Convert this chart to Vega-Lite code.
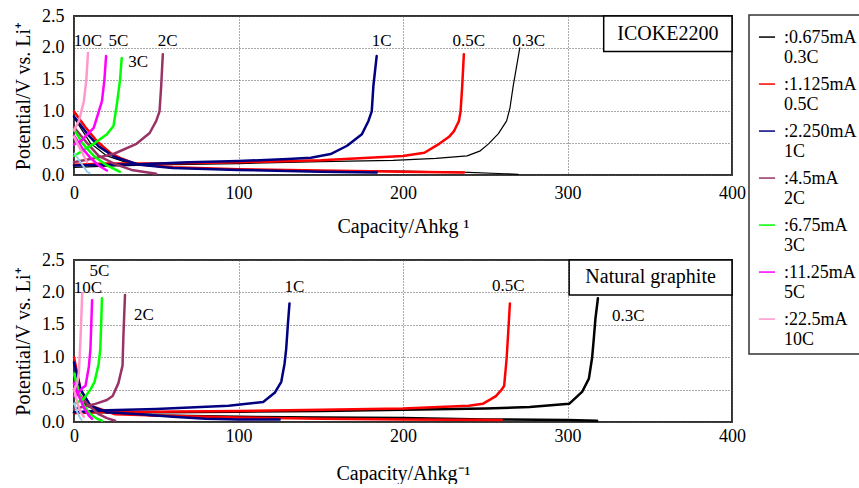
{
  "$schema": "https://vega.github.io/schema/vega-lite/v6.json",
  "background": "white",
  "padding": {"left": 12, "top": 6, "right": 0, "bottom": 0},
  "datasets": {
    "curves": [
      {"p":"A","s":"0.3C","k":"c","x":0,"y":0.12},{"p":"A","s":"0.3C","k":"c","x":20,"y":0.14},{"p":"A","s":"0.3C","k":"c","x":50,"y":0.16},{"p":"A","s":"0.3C","k":"c","x":100,"y":0.18},{"p":"A","s":"0.3C","k":"c","x":150,"y":0.21},{"p":"A","s":"0.3C","k":"c","x":194,"y":0.23},{"p":"A","s":"0.3C","k":"c","x":220,"y":0.26},{"p":"A","s":"0.3C","k":"c","x":239,"y":0.3},{"p":"A","s":"0.3C","k":"c","x":247,"y":0.38},{"p":"A","s":"0.3C","k":"c","x":252,"y":0.49},{"p":"A","s":"0.3C","k":"c","x":258,"y":0.65},{"p":"A","s":"0.3C","k":"c","x":263,"y":0.85},{"p":"A","s":"0.3C","k":"c","x":265,"y":1.05},{"p":"A","s":"0.3C","k":"c","x":267,"y":1.4},{"p":"A","s":"0.3C","k":"c","x":269,"y":1.7},{"p":"A","s":"0.3C","k":"c","x":271,"y":2.0},
      {"p":"A","s":"0.3C","k":"d","x":0,"y":0.9},{"p":"A","s":"0.3C","k":"d","x":10,"y":0.5},{"p":"A","s":"0.3C","k":"d","x":20,"y":0.3},{"p":"A","s":"0.3C","k":"d","x":35,"y":0.17},{"p":"A","s":"0.3C","k":"d","x":60,"y":0.11},{"p":"A","s":"0.3C","k":"d","x":100,"y":0.08},{"p":"A","s":"0.3C","k":"d","x":150,"y":0.07},{"p":"A","s":"0.3C","k":"d","x":200,"y":0.06},{"p":"A","s":"0.3C","k":"d","x":240,"y":0.04},{"p":"A","s":"0.3C","k":"d","x":262,"y":0.02},{"p":"A","s":"0.3C","k":"d","x":270,"y":0.01},
      {"p":"A","s":"0.5C","k":"c","x":0,"y":0.16},{"p":"A","s":"0.5C","k":"c","x":20,"y":0.18},{"p":"A","s":"0.5C","k":"c","x":50,"y":0.18},{"p":"A","s":"0.5C","k":"c","x":100,"y":0.2},{"p":"A","s":"0.5C","k":"c","x":150,"y":0.23},{"p":"A","s":"0.5C","k":"c","x":200,"y":0.3},{"p":"A","s":"0.5C","k":"c","x":213,"y":0.35},{"p":"A","s":"0.5C","k":"c","x":222,"y":0.49},{"p":"A","s":"0.5C","k":"c","x":228,"y":0.6},{"p":"A","s":"0.5C","k":"c","x":231,"y":0.69},{"p":"A","s":"0.5C","k":"c","x":234,"y":0.85},{"p":"A","s":"0.5C","k":"c","x":235,"y":1.0},{"p":"A","s":"0.5C","k":"c","x":236,"y":1.4},{"p":"A","s":"0.5C","k":"c","x":237,"y":1.9},
      {"p":"A","s":"0.5C","k":"d","x":0,"y":1.0},{"p":"A","s":"0.5C","k":"d","x":7,"y":0.75},{"p":"A","s":"0.5C","k":"d","x":14,"y":0.53},{"p":"A","s":"0.5C","k":"d","x":22,"y":0.35},{"p":"A","s":"0.5C","k":"d","x":28,"y":0.27},{"p":"A","s":"0.5C","k":"d","x":38,"y":0.17},{"p":"A","s":"0.5C","k":"d","x":60,"y":0.12},{"p":"A","s":"0.5C","k":"d","x":100,"y":0.09},{"p":"A","s":"0.5C","k":"d","x":150,"y":0.07},{"p":"A","s":"0.5C","k":"d","x":200,"y":0.05},{"p":"A","s":"0.5C","k":"d","x":237,"y":0.04},
      {"p":"A","s":"1C","k":"c","x":0,"y":0.15},{"p":"A","s":"1C","k":"c","x":20,"y":0.16},{"p":"A","s":"1C","k":"c","x":40,"y":0.17},{"p":"A","s":"1C","k":"c","x":70,"y":0.2},{"p":"A","s":"1C","k":"c","x":100,"y":0.22},{"p":"A","s":"1C","k":"c","x":130,"y":0.25},{"p":"A","s":"1C","k":"c","x":144,"y":0.27},{"p":"A","s":"1C","k":"c","x":156,"y":0.33},{"p":"A","s":"1C","k":"c","x":166,"y":0.46},{"p":"A","s":"1C","k":"c","x":175,"y":0.64},{"p":"A","s":"1C","k":"c","x":179,"y":0.85},{"p":"A","s":"1C","k":"c","x":181,"y":1.0},{"p":"A","s":"1C","k":"c","x":182,"y":1.4},{"p":"A","s":"1C","k":"c","x":184,"y":1.87},
      {"p":"A","s":"1C","k":"d","x":0,"y":0.92},{"p":"A","s":"1C","k":"d","x":8,"y":0.65},{"p":"A","s":"1C","k":"d","x":15,"y":0.45},{"p":"A","s":"1C","k":"d","x":25,"y":0.28},{"p":"A","s":"1C","k":"d","x":40,"y":0.16},{"p":"A","s":"1C","k":"d","x":60,"y":0.11},{"p":"A","s":"1C","k":"d","x":100,"y":0.08},{"p":"A","s":"1C","k":"d","x":150,"y":0.05},{"p":"A","s":"1C","k":"d","x":184,"y":0.04},
      {"p":"A","s":"2C","k":"c","x":0,"y":0.2},{"p":"A","s":"2C","k":"c","x":10,"y":0.25},{"p":"A","s":"2C","k":"c","x":24,"y":0.33},{"p":"A","s":"2C","k":"c","x":38,"y":0.49},{"p":"A","s":"2C","k":"c","x":46,"y":0.66},{"p":"A","s":"2C","k":"c","x":50,"y":0.85},{"p":"A","s":"2C","k":"c","x":52,"y":1.0},{"p":"A","s":"2C","k":"c","x":53,"y":1.4},{"p":"A","s":"2C","k":"c","x":54,"y":1.9},
      {"p":"A","s":"2C","k":"d","x":0,"y":0.75},{"p":"A","s":"2C","k":"d","x":8,"y":0.5},{"p":"A","s":"2C","k":"d","x":15,"y":0.3},{"p":"A","s":"2C","k":"d","x":25,"y":0.17},{"p":"A","s":"2C","k":"d","x":35,"y":0.08},{"p":"A","s":"2C","k":"d","x":45,"y":0.04},{"p":"A","s":"2C","k":"d","x":50,"y":0.02},
      {"p":"A","s":"3C","k":"c","x":0,"y":0.3},{"p":"A","s":"3C","k":"c","x":2,"y":0.33},{"p":"A","s":"3C","k":"c","x":12,"y":0.49},{"p":"A","s":"3C","k":"c","x":20,"y":0.64},{"p":"A","s":"3C","k":"c","x":24,"y":0.77},{"p":"A","s":"3C","k":"c","x":26,"y":1.1},{"p":"A","s":"3C","k":"c","x":28,"y":1.5},{"p":"A","s":"3C","k":"c","x":29,"y":1.84},
      {"p":"A","s":"3C","k":"d","x":0,"y":0.72},{"p":"A","s":"3C","k":"d","x":5,"y":0.5},{"p":"A","s":"3C","k":"d","x":12,"y":0.3},{"p":"A","s":"3C","k":"d","x":20,"y":0.15},{"p":"A","s":"3C","k":"d","x":28,"y":0.05},
      {"p":"A","s":"5C","k":"c","x":0,"y":0.48},{"p":"A","s":"5C","k":"c","x":4,"y":0.53},{"p":"A","s":"5C","k":"c","x":12,"y":0.74},{"p":"A","s":"5C","k":"c","x":17,"y":1.16},{"p":"A","s":"5C","k":"c","x":18.5,"y":1.5},{"p":"A","s":"5C","k":"c","x":19.5,"y":1.87},
      {"p":"A","s":"5C","k":"d","x":0,"y":0.62},{"p":"A","s":"5C","k":"d","x":5,"y":0.42},{"p":"A","s":"5C","k":"d","x":10,"y":0.27},{"p":"A","s":"5C","k":"d","x":15,"y":0.15},{"p":"A","s":"5C","k":"d","x":20,"y":0.07},
      {"p":"A","s":"10C","k":"c","x":0,"y":0.7},{"p":"A","s":"10C","k":"c","x":3,"y":0.85},{"p":"A","s":"10C","k":"c","x":6,"y":1.16},{"p":"A","s":"10C","k":"c","x":7.5,"y":1.5},{"p":"A","s":"10C","k":"c","x":8.5,"y":1.92},
      {"p":"A","s":"10C","k":"d","x":0,"y":0.6},{"p":"A","s":"10C","k":"d","x":4,"y":0.4},{"p":"A","s":"10C","k":"d","x":8,"y":0.2},
      {"p":"A","s":"extra","k":"d","x":0,"y":0.35},{"p":"A","s":"extra","k":"d","x":4,"y":0.2},{"p":"A","s":"extra","k":"d","x":8,"y":0.05},{"p":"A","s":"extra","k":"d","x":10,"y":0.02},
      {"p":"B","s":"0.3C","k":"c","x":0,"y":0.14},{"p":"B","s":"0.3C","k":"c","x":10,"y":0.15},{"p":"B","s":"0.3C","k":"c","x":50,"y":0.15},{"p":"B","s":"0.3C","k":"c","x":100,"y":0.16},{"p":"B","s":"0.3C","k":"c","x":150,"y":0.17},{"p":"B","s":"0.3C","k":"c","x":200,"y":0.19},{"p":"B","s":"0.3C","k":"c","x":250,"y":0.21},{"p":"B","s":"0.3C","k":"c","x":277,"y":0.23},{"p":"B","s":"0.3C","k":"c","x":301,"y":0.28},{"p":"B","s":"0.3C","k":"c","x":309,"y":0.47},{"p":"B","s":"0.3C","k":"c","x":313,"y":0.67},{"p":"B","s":"0.3C","k":"c","x":315,"y":1.0},{"p":"B","s":"0.3C","k":"c","x":316,"y":1.29},{"p":"B","s":"0.3C","k":"c","x":317,"y":1.6},{"p":"B","s":"0.3C","k":"c","x":318.5,"y":1.91},
      {"p":"B","s":"0.3C","k":"d","x":0,"y":0.5},{"p":"B","s":"0.3C","k":"d","x":8,"y":0.25},{"p":"B","s":"0.3C","k":"d","x":20,"y":0.15},{"p":"B","s":"0.3C","k":"d","x":50,"y":0.1},{"p":"B","s":"0.3C","k":"d","x":100,"y":0.08},{"p":"B","s":"0.3C","k":"d","x":150,"y":0.07},{"p":"B","s":"0.3C","k":"d","x":200,"y":0.06},{"p":"B","s":"0.3C","k":"d","x":250,"y":0.04},{"p":"B","s":"0.3C","k":"d","x":300,"y":0.03},{"p":"B","s":"0.3C","k":"d","x":318,"y":0.02},
      {"p":"B","s":"0.5C","k":"c","x":0,"y":0.14},{"p":"B","s":"0.5C","k":"c","x":10,"y":0.15},{"p":"B","s":"0.5C","k":"c","x":50,"y":0.16},{"p":"B","s":"0.5C","k":"c","x":100,"y":0.17},{"p":"B","s":"0.5C","k":"c","x":150,"y":0.19},{"p":"B","s":"0.5C","k":"c","x":200,"y":0.21},{"p":"B","s":"0.5C","k":"c","x":240,"y":0.25},{"p":"B","s":"0.5C","k":"c","x":248.5,"y":0.28},{"p":"B","s":"0.5C","k":"c","x":256.5,"y":0.4},{"p":"B","s":"0.5C","k":"c","x":260,"y":0.5},{"p":"B","s":"0.5C","k":"c","x":261.5,"y":0.56},{"p":"B","s":"0.5C","k":"c","x":263,"y":0.98},{"p":"B","s":"0.5C","k":"c","x":264,"y":1.4},{"p":"B","s":"0.5C","k":"c","x":265,"y":1.83},
      {"p":"B","s":"0.5C","k":"d","x":0,"y":1.0},{"p":"B","s":"0.5C","k":"d","x":4,"y":0.5},{"p":"B","s":"0.5C","k":"d","x":10,"y":0.25},{"p":"B","s":"0.5C","k":"d","x":25,"y":0.12},{"p":"B","s":"0.5C","k":"d","x":50,"y":0.1},{"p":"B","s":"0.5C","k":"d","x":100,"y":0.07},{"p":"B","s":"0.5C","k":"d","x":150,"y":0.05},{"p":"B","s":"0.5C","k":"d","x":200,"y":0.04},{"p":"B","s":"0.5C","k":"d","x":260,"y":0.03},
      {"p":"B","s":"1C","k":"c","x":0,"y":0.15},{"p":"B","s":"1C","k":"c","x":5,"y":0.16},{"p":"B","s":"1C","k":"c","x":20,"y":0.18},{"p":"B","s":"1C","k":"c","x":50,"y":0.2},{"p":"B","s":"1C","k":"c","x":94,"y":0.25},{"p":"B","s":"1C","k":"c","x":115,"y":0.31},{"p":"B","s":"1C","k":"c","x":122,"y":0.45},{"p":"B","s":"1C","k":"c","x":126,"y":0.62},{"p":"B","s":"1C","k":"c","x":128,"y":0.9},{"p":"B","s":"1C","k":"c","x":129,"y":1.13},{"p":"B","s":"1C","k":"c","x":130,"y":1.5},{"p":"B","s":"1C","k":"c","x":131,"y":1.83},
      {"p":"B","s":"1C","k":"d","x":0,"y":0.92},{"p":"B","s":"1C","k":"d","x":4,"y":0.5},{"p":"B","s":"1C","k":"d","x":10,"y":0.25},{"p":"B","s":"1C","k":"d","x":20,"y":0.15},{"p":"B","s":"1C","k":"d","x":40,"y":0.12},{"p":"B","s":"1C","k":"d","x":60,"y":0.08},{"p":"B","s":"1C","k":"d","x":80,"y":0.05},{"p":"B","s":"1C","k":"d","x":100,"y":0.04},{"p":"B","s":"1C","k":"d","x":125,"y":0.04},
      {"p":"B","s":"2C","k":"c","x":0,"y":0.2},{"p":"B","s":"2C","k":"c","x":3,"y":0.22},{"p":"B","s":"2C","k":"c","x":13,"y":0.28},{"p":"B","s":"2C","k":"c","x":20,"y":0.34},{"p":"B","s":"2C","k":"c","x":23.5,"y":0.4},{"p":"B","s":"2C","k":"c","x":27,"y":0.6},{"p":"B","s":"2C","k":"c","x":29.5,"y":0.87},{"p":"B","s":"2C","k":"c","x":30,"y":1.3},{"p":"B","s":"2C","k":"c","x":31,"y":1.96},
      {"p":"B","s":"2C","k":"d","x":0,"y":0.6},{"p":"B","s":"2C","k":"d","x":4,"y":0.4},{"p":"B","s":"2C","k":"d","x":8,"y":0.28},{"p":"B","s":"2C","k":"d","x":15,"y":0.12},{"p":"B","s":"2C","k":"d","x":20,"y":0.06},{"p":"B","s":"2C","k":"d","x":25,"y":0.02},
      {"p":"B","s":"3C","k":"c","x":0,"y":0.28},{"p":"B","s":"3C","k":"c","x":2,"y":0.3},{"p":"B","s":"3C","k":"c","x":6,"y":0.36},{"p":"B","s":"3C","k":"c","x":10,"y":0.5},{"p":"B","s":"3C","k":"c","x":12.5,"y":0.62},{"p":"B","s":"3C","k":"c","x":15,"y":0.9},{"p":"B","s":"3C","k":"c","x":16,"y":1.13},{"p":"B","s":"3C","k":"c","x":16.5,"y":1.5},{"p":"B","s":"3C","k":"c","x":17,"y":1.91},
      {"p":"B","s":"3C","k":"d","x":0,"y":0.75},{"p":"B","s":"3C","k":"d","x":3,"y":0.45},{"p":"B","s":"3C","k":"d","x":6,"y":0.25},{"p":"B","s":"3C","k":"d","x":10,"y":0.12},{"p":"B","s":"3C","k":"d","x":14,"y":0.05},{"p":"B","s":"3C","k":"d","x":17,"y":0.02},
      {"p":"B","s":"5C","k":"c","x":0,"y":0.4},{"p":"B","s":"5C","k":"c","x":2,"y":0.45},{"p":"B","s":"5C","k":"c","x":5,"y":0.52},{"p":"B","s":"5C","k":"c","x":7,"y":0.56},{"p":"B","s":"5C","k":"c","x":9,"y":0.85},{"p":"B","s":"5C","k":"c","x":10,"y":1.13},{"p":"B","s":"5C","k":"c","x":10.5,"y":1.5},{"p":"B","s":"5C","k":"c","x":11,"y":1.88},
      {"p":"B","s":"5C","k":"d","x":0,"y":0.6},{"p":"B","s":"5C","k":"d","x":3,"y":0.4},{"p":"B","s":"5C","k":"d","x":6,"y":0.22},{"p":"B","s":"5C","k":"d","x":9,"y":0.1},{"p":"B","s":"5C","k":"d","x":11,"y":0.05},
      {"p":"B","s":"10C","k":"c","x":0,"y":0.5},{"p":"B","s":"10C","k":"c","x":2,"y":0.6},{"p":"B","s":"10C","k":"c","x":3,"y":0.78},{"p":"B","s":"10C","k":"c","x":4,"y":1.3},{"p":"B","s":"10C","k":"c","x":5,"y":1.99},
      {"p":"B","s":"10C","k":"d","x":0,"y":0.5},{"p":"B","s":"10C","k":"d","x":2,"y":0.3},{"p":"B","s":"10C","k":"d","x":4,"y":0.15},{"p":"B","s":"10C","k":"d","x":6,"y":0.08},
      {"p":"B","s":"extra","k":"d","x":0,"y":0.3},{"p":"B","s":"extra","k":"d","x":2,"y":0.15},{"p":"B","s":"extra","k":"d","x":4,"y":0.05},{"p":"B","s":"extra","k":"d","x":5,"y":0.02}
    ],
    "notes": [
      {"p":"A","t":"10C","x":8.5,"y":2.1},{"p":"A","t":"5C","x":27,"y":2.1},{"p":"A","t":"2C","x":57,"y":2.1},{"p":"A","t":"3C","x":39,"y":1.78},{"p":"A","t":"1C","x":187,"y":2.1},{"p":"A","t":"0.5C","x":240,"y":2.1},{"p":"A","t":"0.3C","x":276.5,"y":2.1},
      {"p":"B","t":"5C","x":15.5,"y":2.33},{"p":"B","t":"10C","x":8.5,"y":2.07},{"p":"B","t":"2C","x":42.5,"y":1.65},{"p":"B","t":"1C","x":134,"y":2.08},{"p":"B","t":"0.5C","x":264,"y":2.1},{"p":"B","t":"0.3C","x":337,"y":1.63}
    ],
    "boxes": [
      {"p":"A","t":"ICOKE2200","x1":322,"x2":400,"y1":1.94,"y2":2.5,"xc":361,"yc":2.22},
      {"p":"B","t":"Natural graphite","x1":301,"x2":400,"y1":1.96,"y2":2.5,"xc":350.5,"yc":2.23}
    ]
  },
  "vconcat": [
    {
      "width": 658, "height": 159,
      "layer": [
        {
          "data": {"name": "curves"},
          "transform": [{"filter": "datum.p == 'A' && datum.s != 'extra'"}],
          "mark": {"type": "line", "strokeCap": "round", "strokeJoin": "round"},
          "encoding": {
            "x": {"field": "x", "type": "quantitative", "scale": {"domain": [0, 400], "nice": false}, "axis": {"values": [0, 100, 200, 300, 400], "title": "Capacity/Ahkg ¹", "labelOverlap": false, "labelFlush": false, "labelPadding": 9, "titlePadding": 14}},
            "y": {"field": "y", "type": "quantitative", "scale": {"domain": [0, 2.5], "nice": false}, "axis": {"tickCount": 6, "format": ".1f", "title": "Potential/V vs. Li⁺", "labelOverlap": false, "labelFlush": false}},
            "color": {"field": "s", "type": "nominal", "scale": {"domain": ["0.3C", "0.5C", "1C", "2C", "3C", "5C", "10C"], "range": ["#000000", "#ff0000", "#000080", "#993366", "#00ff00", "#ff00ff", "#ff99cc"]},
              "legend": {"orient": "none", "legendX": 675, "legendY": -1, "labelExpr": "datum.label == '0.3C' ? [':0.675mA', '0.3C'] : datum.label == '0.5C' ? [':1.125mA', '0.5C'] : datum.label == '1C' ? [':2.250mA', '1C'] : datum.label == '2C' ? [':4.5mA', '2C'] : datum.label == '3C' ? [':6.75mA', '3C'] : datum.label == '5C' ? [':11.25mA', '5C'] : [':22.5mA', '10C']"}},
            "detail": {"field": "k"},
            "strokeWidth": {"condition": {"test": "datum.s == '0.3C'", "value": 1.2}, "value": 2.5}
          }
        },
        {
          "data": {"name": "curves"},
          "transform": [{"filter": "datum.p == 'A' && datum.s == 'extra'"}],
          "mark": {"type": "line", "color": "#99ccee", "strokeWidth": 2},
          "encoding": {"x": {"field": "x", "type": "quantitative"}, "y": {"field": "y", "type": "quantitative"}}
        },
        {
          "data": {"name": "boxes"},
          "transform": [{"filter": "datum.p == 'A'"}],
          "mark": {"type": "rect", "fill": "white", "stroke": "black", "strokeWidth": 1.5},
          "encoding": {"x": {"field": "x1", "type": "quantitative"}, "x2": {"field": "x2"}, "y": {"field": "y1", "type": "quantitative"}, "y2": {"field": "y2"}}
        },
        {
          "data": {"name": "boxes"},
          "transform": [{"filter": "datum.p == 'A'"}],
          "mark": {"type": "text", "font": "Liberation Serif", "fontSize": 20, "color": "black"},
          "encoding": {"x": {"field": "xc", "type": "quantitative"}, "y": {"field": "yc", "type": "quantitative"}, "text": {"field": "t"}}
        },
        {
          "data": {"name": "notes"},
          "transform": [{"filter": "datum.p == 'A'"}],
          "mark": {"type": "text", "font": "Liberation Serif", "fontSize": 17, "color": "black"},
          "encoding": {"x": {"field": "x", "type": "quantitative"}, "y": {"field": "y", "type": "quantitative"}, "text": {"field": "t"}}
        }
      ]
    },
    {
      "width": 658, "height": 162,
      "layer": [
        {
          "data": {"name": "curves"},
          "transform": [{"filter": "datum.p == 'B' && datum.s != 'extra'"}],
          "mark": {"type": "line", "strokeCap": "round", "strokeJoin": "round"},
          "encoding": {
            "x": {"field": "x", "type": "quantitative", "scale": {"domain": [0, 400], "nice": false}, "axis": {"values": [0, 100, 200, 300, 400], "title": "Capacity/Ahkg⁻¹", "labelOverlap": false, "labelFlush": false, "labelPadding": 5, "titlePadding": 18}},
            "y": {"field": "y", "type": "quantitative", "scale": {"domain": [0, 2.5], "nice": false}, "axis": {"tickCount": 6, "format": ".1f", "title": "Potential/V vs. Li⁺", "labelOverlap": false, "labelFlush": false}},
            "color": {"field": "s", "type": "nominal", "scale": {"domain": ["0.3C", "0.5C", "1C", "2C", "3C", "5C", "10C"], "range": ["#000000", "#ff0000", "#000080", "#993366", "#00ff00", "#ff00ff", "#ff99cc"]}},
            "detail": {"field": "k"},
            "strokeWidth": {"value": 2.5}
          }
        },
        {
          "data": {"name": "curves"},
          "transform": [{"filter": "datum.p == 'B' && datum.s == 'extra'"}],
          "mark": {"type": "line", "color": "#99ccee", "strokeWidth": 2},
          "encoding": {"x": {"field": "x", "type": "quantitative"}, "y": {"field": "y", "type": "quantitative"}}
        },
        {
          "data": {"name": "boxes"},
          "transform": [{"filter": "datum.p == 'B'"}],
          "mark": {"type": "rect", "fill": "white", "stroke": "black", "strokeWidth": 1.5},
          "encoding": {"x": {"field": "x1", "type": "quantitative"}, "x2": {"field": "x2"}, "y": {"field": "y1", "type": "quantitative"}, "y2": {"field": "y2"}}
        },
        {
          "data": {"name": "boxes"},
          "transform": [{"filter": "datum.p == 'B'"}],
          "mark": {"type": "text", "font": "Liberation Serif", "fontSize": 20, "color": "black"},
          "encoding": {"x": {"field": "xc", "type": "quantitative"}, "y": {"field": "yc", "type": "quantitative"}, "text": {"field": "t"}}
        },
        {
          "data": {"name": "notes"},
          "transform": [{"filter": "datum.p == 'B'"}],
          "mark": {"type": "text", "font": "Liberation Serif", "fontSize": 17, "color": "black"},
          "encoding": {"x": {"field": "x", "type": "quantitative"}, "y": {"field": "y", "type": "quantitative"}, "text": {"field": "t"}}
        }
      ]
    }
  ],
  "spacing": 13,
  "resolve": {"scale": {"color": "shared"}},
  "config": {
    "view": {"stroke": "#333333", "strokeWidth": 2},
    "axis": {
      "labelFont": "Liberation Serif", "labelFontSize": 18, "labelColor": "black",
      "titleFont": "Liberation Serif", "titleFontSize": 20, "titleFontWeight": "normal", "titleColor": "black",
      "domain": false, "ticks": false, "labelOverlap": false, "labelFlush": false,
      "grid": true, "gridColor": "#555555", "gridDash": [1, 2], "gridWidth": 1
    },
    "axisY": {"labelPadding": 10, "titlePadding": 8},
    "legend": {
      "title": null,
      "strokeColor": "#333333", "strokeWidth": 1.5, "padding": 5,
      "labelFont": "Liberation Serif", "labelFontSize": 18, "labelColor": "black",
      "labelLimit": 200, "labelOffset": 8, "labelBaseline": "top", "labelLineHeight": 22,
      "symbolType": "M-1,1H1", "symbolStrokeWidth": 1.5, "symbolSize": 260, "symbolOffset": 4, "rowPadding": 0
    }
  }
}
